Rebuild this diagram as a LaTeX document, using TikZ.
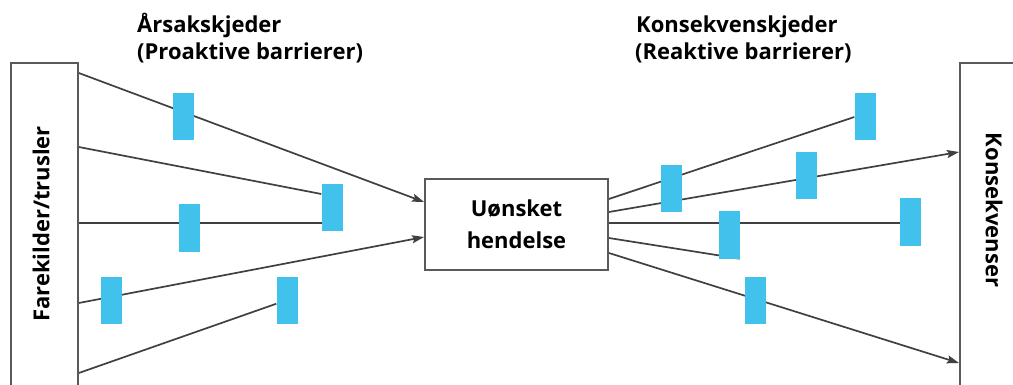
\documentclass[tikz,border=0pt]{standalone}
\usepackage{fontspec}
\setmainfont{Open Sans}
\usepackage{tikz}
\usetikzlibrary{backgrounds,arrows.meta}

\definecolor{barriereblaa}{RGB}{64,194,236}
\tikzset{
    boks/.style={draw=black!65, line width=1.8pt, fill=white, inner sep=0pt},
    barriere/.style={fill=barriereblaa, minimum width=21, minimum height=47, inner sep=0pt},
    kjede/.style={draw=black!75, line width=1.7pt},
    pil/.style={kjede, -{Stealth[length=12pt,width=8pt,inset=2pt]}},
    tittel/.style={font=\fontsize{22}{32}\selectfont\bfseries, inner sep=0pt},
}

\begin{document}
\begin{tikzpicture}[x=1pt,y=-1pt]
    \useasboundingbox (0,0) rectangle (1013,385);
    \clip (0,0) rectangle (1013,385);
    \node[boks, anchor=north west, minimum width=67, minimum height=340] (kilder) at (10,62) {};
    \node[boks, anchor=north west, minimum width=80, minimum height=340] (konsekv) at (959,62) {};
    \node[boks, tittel, align=center, minimum width=183, minimum height=91] (hendelse) at (516.5,224.5) {Uønsket\\hendelse};
    \node[tittel, rotate=90] (kildetekst) at (41,224) {Farekilder/trusler};
    \node[tittel, rotate=-90] (konsekvtekst) at (994,210) {Konsekvenser};
    \node[tittel, anchor=base west] (aarsak) at (137,33) {Årsakskjeder};
    \node[tittel, anchor=base west] (proaktiv) at (137,60) {(Proaktive barrierer)};
    \node[tittel, anchor=base west] (konsekvkjede) at (636,33) {Konsekvenskjeder};
    \node[tittel, anchor=base west] (reaktiv) at (635,60) {(Reaktive barrierer)};
    \foreach \navn/\x/\y in {l1/183/117, l2/332/208, l3/189/228, l4/111/300, l5/287/300,
                             r1/671/189, r2/806/176, r3/729/235, r4/755/300, r5/865/117, r6/910/222} {%
        \node[barriere] (\navn) at (\x,\y) {};
    }
    \begin{scope}[on background layer]
        \draw[pil] (kilder.east |- 0,73) -- (hendelse.west |- 0,202);
        \draw[kjede] (kilder.east |- 0,147) -- (l2.west |- 0,194);
        \draw[kjede] (kilder.east |- 0,223) -- (l2.east |- 0,223);
        \draw[pil] (kilder.east |- 0,303) -- (hendelse.west |- 0,237);
        \draw[kjede] (kilder.east |- 0,373) -- (l5);
        \draw[kjede] (hendelse.east |- 0,199) -- (r5.west);
        \draw[pil] (hendelse.east |- 0,212) -- (konsekv.west |- 0,152);
        \draw[kjede] (hendelse.east |- 0,223) -- (r6 |- 0,223);
        \draw[kjede] (hendelse.east |- 0,238) -- (r3.south east);
        \draw[pil] (hendelse.east |- 0,253) -- (konsekv.west |- 0,363);
    \end{scope}
\end{tikzpicture}
\end{document}
